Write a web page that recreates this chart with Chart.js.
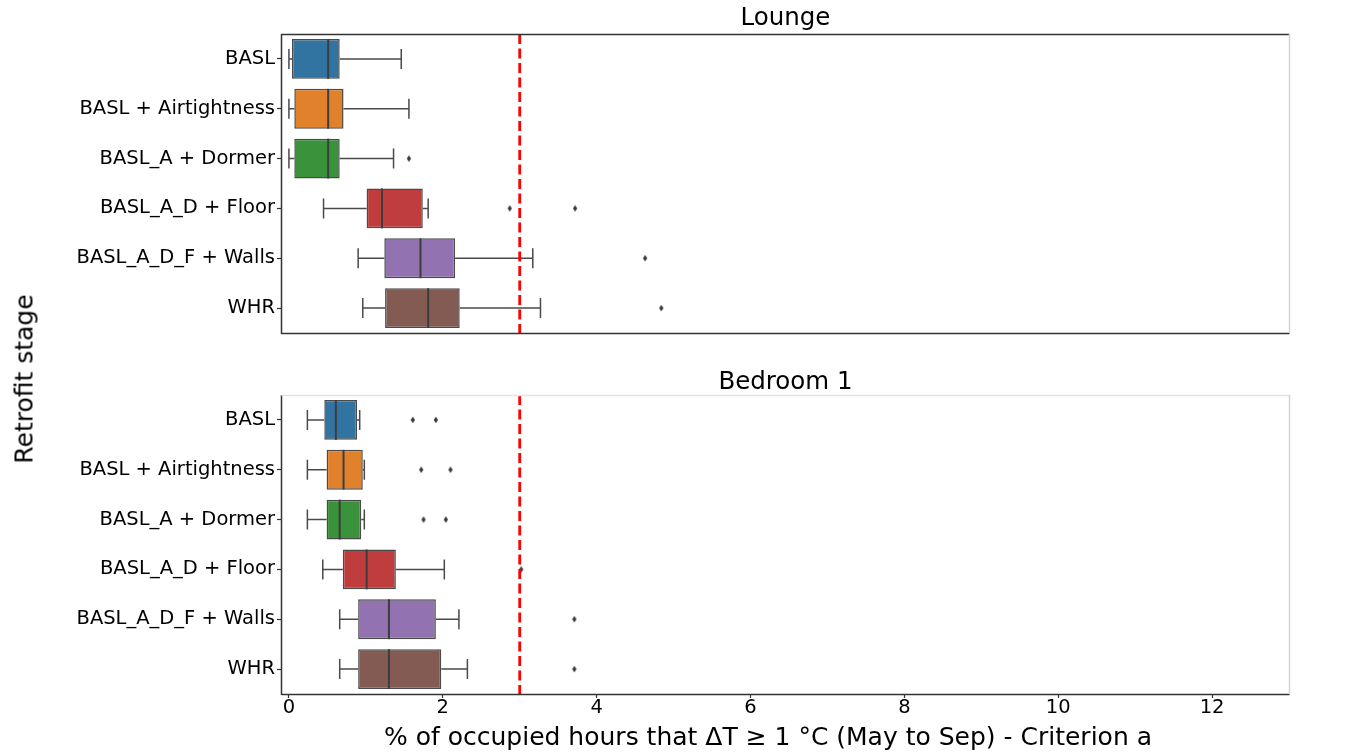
<!DOCTYPE html>
<html>
<head>
<meta charset="utf-8">
<script src="https://cdn.jsdelivr.net/npm/chart.js@4.4.0/dist/chart.umd.min.js"></script>
<style>
  html, body { margin: 0; padding: 0; background: #fff; }
  #wrap { position: relative; width: 1364px; height: 754px; overflow: hidden; }
  #c1 { position: absolute; left: 0; top: 0; }
  #c2 { position: absolute; left: 0; top: 360px; }
  .axlab { position: absolute; font: 25px 'DejaVu Sans'; color: #000; white-space: nowrap; line-height: 1; }
  #ylab { left: 24px; top: 379px; transform: translate(-50%, -50%) rotate(-90deg); }
  #xlab { left: 768px; top: 736px; transform: translate(-50%, -50%); }
</style>
</head>
<body>
<div id="wrap">
  <canvas id="c1" width="1364" height="338"></canvas>
  <canvas id="c2" width="1364" height="394"></canvas>
  <div id="ylab" class="axlab">Retrofit stage</div>
  <div id="xlab" class="axlab">% of occupied hours that ΔT ≥ 1 °C (May to Sep) - Criterion a</div>
</div>
<script>
// Retrofit stages (one box per stage)
const stages = ['BASL', 'BASL + Airtightness', 'BASL_A + Dormer', 'BASL_A_D + Floor', 'BASL_A_D_F + Walls', 'WHR'];

// Lounge: box-plot statistics, % of occupied hours
const loungeLow    = [0.00, 0.00, 0.00, 0.45, 0.90, 0.96];
const loungeQ1     = [0.04, 0.07, 0.07, 1.01, 1.24, 1.25];
const loungeMedian = [0.51, 0.51, 0.51, 1.21, 1.71, 1.81];
const loungeQ3     = [0.66, 0.71, 0.66, 1.74, 2.16, 2.22];
const loungeHigh   = [1.46, 1.56, 1.36, 1.81, 3.17, 3.27];
const loungeOutliers = [[], [], [1.56], [2.87, 3.72], [4.63], [4.84]];

// Bedroom 1: box-plot statistics
const bedLow    = [0.24, 0.24, 0.24, 0.44, 0.66, 0.66];
const bedQ1     = [0.46, 0.49, 0.49, 0.70, 0.90, 0.90];
const bedMedian = [0.61, 0.71, 0.66, 1.01, 1.30, 1.30];
const bedQ3     = [0.885, 0.96, 0.94, 1.39, 1.91, 1.98];
const bedHigh   = [0.92, 0.98, 0.98, 2.02, 2.21, 2.32];
const bedOutliers = [[1.61, 1.91], [1.72, 2.10], [1.75, 2.04], [3.02], [3.71], [3.71]];

// Criterion threshold and x-axis ticks
const threshold = 3;
const xTicks = [0, 2, 4, 6, 8, 10, 12];

const palette = ['#3274a1', '#e1812c', '#3a923a', '#c03d3e', '#9372b2', '#845b53'];
const FONT = 'DejaVu Sans';
const LINE = '#4a4a4a';

// thin diamond marker for outliers
const diamond = document.createElement('canvas');
diamond.width = 6; diamond.height = 8;
(() => {
  const d = diamond.getContext('2d');
  d.fillStyle = '#3a3a3a';
  d.beginPath();
  d.moveTo(3, 0.8); d.lineTo(5.2, 4); d.lineTo(3, 7.2); d.lineTo(0.8, 4);
  d.closePath(); d.fill();
})();

function boxPlugin(low, median, high, frameTopColor) {
  return {
    id: 'boxDetails',
    afterDatasetsDraw(chart) {
      const { ctx, chartArea: a, scales: { x, y } } = chart;
      const band = y.getPixelForValue(1) - y.getPixelForValue(0);
      ctx.save();
      ctx.beginPath(); ctx.rect(a.left, a.top, a.right - a.left, a.bottom - a.top); ctx.clip();
      const q1 = chart.data.datasets[0].data.map(r => r[0]);
      const q3 = chart.data.datasets[0].data.map(r => r[1]);
      low.forEach((lo, i) => {
        const cy = y.getPixelForValue(i);
        const xl = x.getPixelForValue(lo), xh = x.getPixelForValue(high[i]);
        const x1 = x.getPixelForValue(q1[i]), x3 = x.getPixelForValue(q3[i]);
        const xm = x.getPixelForValue(median[i]);
        ctx.strokeStyle = LINE; ctx.lineWidth = 1.5;
        ctx.beginPath();
        ctx.moveTo(xl, cy); ctx.lineTo(x1, cy);
        ctx.moveTo(x3, cy); ctx.lineTo(xh, cy);
        ctx.moveTo(xl, cy - band * 0.2); ctx.lineTo(xl, cy + band * 0.2);
        ctx.moveTo(xh, cy - band * 0.2); ctx.lineTo(xh, cy + band * 0.2);
        ctx.stroke();
        ctx.strokeStyle = '#3d3d3d'; ctx.lineWidth = 2;
        ctx.beginPath();
        ctx.moveTo(xm, cy - band * 0.4); ctx.lineTo(xm, cy + band * 0.4);
        ctx.stroke();
      });
      const xt = x.getPixelForValue(threshold);
      ctx.strokeStyle = '#ff0000'; ctx.lineWidth = 2.8; ctx.setLineDash([10, 4.5]);
      ctx.beginPath(); ctx.moveTo(xt, a.top); ctx.lineTo(xt, a.bottom); ctx.stroke();
      ctx.restore();
    },
    afterDraw(chart) {
      const { ctx, chartArea: a } = chart;
      ctx.save();
      ctx.lineWidth = 1.5;
      ctx.strokeStyle = '#333';
      ctx.beginPath();
      ctx.moveTo(a.left - 0.5, a.top); ctx.lineTo(a.left - 0.5, a.bottom + 1);
      ctx.moveTo(a.left - 0.5, a.bottom + 0.5); ctx.lineTo(a.right + 0.5, a.bottom + 0.5);
      ctx.stroke();
      ctx.strokeStyle = frameTopColor;
      ctx.beginPath(); ctx.moveTo(a.left - 0.5, a.top + 0.5); ctx.lineTo(a.right + 0.5, a.top + 0.5); ctx.stroke();
      ctx.strokeStyle = '#d4d4d4';
      ctx.beginPath(); ctx.moveTo(a.right + 0.5, a.top); ctx.lineTo(a.right + 0.5, a.bottom); ctx.stroke();
      ctx.restore();
    }
  };
}

function makePanel(canvasId, title, low, q1, median, q3, high, outliers, showX, titlePad, frameTopColor) {
  const points = [];
  outliers.forEach((vals, i) => vals.forEach(v => points.push({ x: v, y: stages[i] })));
  const xScale = {
    type: 'linear', min: -0.09, max: 13, display: showX,
    afterBuildTicks: s => { s.ticks = xTicks.map(v => ({ value: v })); },
    grid: { drawOnChartArea: false, tickLength: 4, tickColor: '#333', tickWidth: 1.2 },
    border: { display: false },
    ticks: { color: '#000', font: { family: FONT, size: 19.5, lineHeight: 1 }, padding: 0, maxRotation: 0, autoSkip: false },
    afterFit: s => { if (showX) s.height = 60; }
  };
  return new Chart(document.getElementById(canvasId), {
    type: 'bar',
    data: {
      labels: stages,
      datasets: [
        {
          type: 'bar',
          data: q1.map((v, i) => [v, q3[i]]),
          backgroundColor: palette,
          borderColor: LINE,
          borderWidth: 1.5,
          borderSkipped: false,
          barPercentage: 0.8,
          categoryPercentage: 1,
          order: 2
        },
        {
          type: 'scatter',
          data: points,
          pointStyle: diamond,
          pointRadius: 3,
          order: 1
        }
      ]
    },
    options: {
      indexAxis: 'y',
      responsive: false,
      animation: false,
      events: [],
      layout: { padding: { left: 0, right: 75, top: 0, bottom: showX ? 0 : 1 } },
      plugins: {
        legend: { display: false },
        tooltip: { enabled: false },
        title: {
          display: true, text: title, color: '#000', fullSize: false,
          font: { family: FONT, size: 24.5, weight: 'normal', lineHeight: 1 },
          padding: titlePad
        }
      },
      scales: {
        x: xScale,
        y: {
          type: 'category', labels: stages, offset: true,
          grid: { offset: false, drawOnChartArea: false, tickLength: 5, tickColor: '#333', tickWidth: 1.2 },
          border: { display: false },
          ticks: { color: '#000', font: { family: FONT, size: 19.5 }, padding: 2 },
          afterFit: s => { s.width = 282; s.paddingTop = 0; s.paddingBottom = 0; }
        }
      }
    },
    plugins: [boxPlugin(low, median, high, frameTopColor)]
  });
}

makePanel('c1', 'Lounge', loungeLow, loungeQ1, loungeMedian, loungeQ3, loungeHigh, loungeOutliers,
  false, { top: 6.5, bottom: 3 }, '#333');
makePanel('c2', 'Bedroom 1', bedLow, bedQ1, bedMedian, bedQ3, bedHigh, bedOutliers,
  true, { top: 10.3, bottom: 0.2 }, '#e4e4e4');
</script>
</body>
</html>
